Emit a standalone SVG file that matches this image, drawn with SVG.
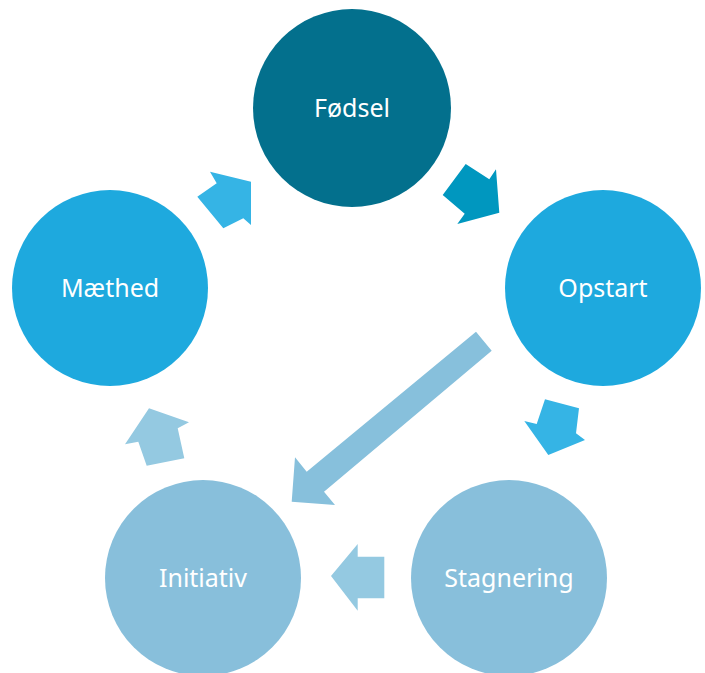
<svg xmlns="http://www.w3.org/2000/svg" width="705" height="673" viewBox="0 0 705 673">
<style>
.lbl{font-family:"Noto Sans","Open Sans",sans-serif;font-size:25px;fill:#ffffff;text-anchor:middle}
.dark{fill:#03708D}
.mid{fill:#1EA9DE}
.light{fill:#88BFDB}
</style>
<rect width="705" height="673" fill="#ffffff"/>
<g id="connectors">
<polygon points="442.7,195 465.7,164 489.3,179.3 496,169.3 499.3,212.7 457.3,224 464.7,213.7" fill="#0097BF"/>
<polygon points="545,399.3 579,408.3 576,433.3 585,440 548.3,455 524.3,421 536.7,424" fill="#35B4E5"/>
<polygon points="331,576 357.7,544 357.7,556.7 384.3,556.7 384.3,598.3 357.7,598.3 357.7,610.7" fill="#94C9E1"/>
<polygon points="149,408.3 189,422.3 177.7,428.3 184.3,458.3 146.7,465.7 138.3,441.7 125,444.3" fill="#94C9E1"/>
<polygon points="210,171.7 251,181.7 251,225 243.3,218.3 223.3,228.3 197.3,196.7 216.7,183.3" fill="#35B4E5"/>
<polygon points="476,331.7 491.7,350.7 324,491.7 335,505 291.7,501.7 295,457.3 306.7,471.7" fill="#87C0DC"/>
</g>
<g id="fodsel"><circle cx="352" cy="108" r="99" class="dark"/><text x="352" y="117" class="lbl">Fødsel</text></g>
<g id="opstart"><circle cx="603" cy="288" r="98" class="mid"/><text x="603" y="297" class="lbl">Opstart</text></g>
<g id="stagnering"><circle cx="509" cy="578" r="98" class="light"/><text x="509" y="587" class="lbl">Stagnering</text></g>
<g id="initiativ"><circle cx="203" cy="578" r="98" class="light"/><text x="203" y="587" class="lbl">Initiativ</text></g>
<g id="maethed"><circle cx="110" cy="288" r="98" class="mid"/><text x="110" y="297" class="lbl">Mæthed</text></g>
</svg>
